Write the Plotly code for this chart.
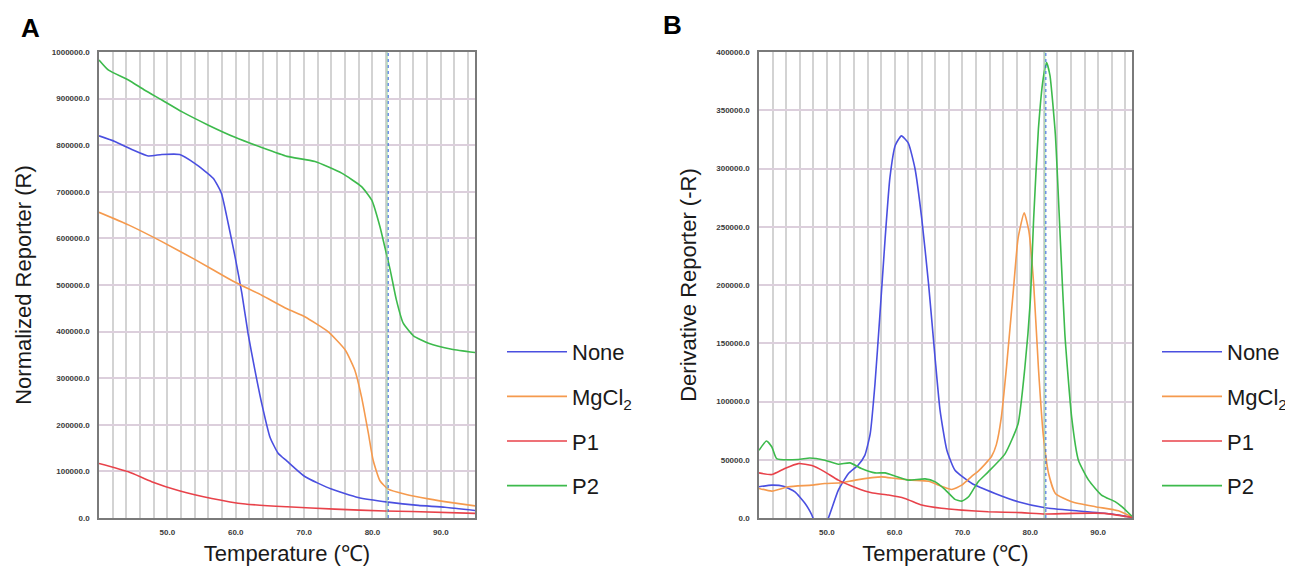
import plotly.graph_objects as go

# ---------------- data ----------------
series_names = ["None", "MgCl<sub>2</sub>", "P1", "P2"]
series_colors = ["#4a4fe0", "#f59a4e", "#e8424a", "#3dba4c"]
x_tick_values = [50, 60, 70, 80, 90]

# Panel A: Normalized reporter
A_none_T = [40.0, 42.3, 44.8, 47.2, 49.2, 51.8, 54.0, 56.7, 57.9, 58.9, 59.9, 60.9, 61.8, 62.8, 63.8, 65.0, 66.2, 67.5, 70.1, 74.0, 77.9, 82.3, 86.7, 90.6, 95.0]
A_none_v = [820000, 808000, 791000, 777000, 780000, 780000, 761000, 729000, 697000, 632000, 561000, 482000, 396000, 318000, 246000, 174000, 139000, 122000, 89000, 62000, 44000, 34000, 27000, 23000, 16000]

A_mg_T = [40.0, 44.3, 49.2, 54.0, 58.9, 60.6, 63.8, 67.5, 70.1, 73.5, 76.0, 77.4, 78.4, 79.4, 80.1, 81.1, 82.3, 84.8, 88.2, 91.6, 95.0]
A_mg_v = [656000, 629000, 593000, 555000, 514000, 501000, 478000, 449000, 432000, 400000, 361000, 318000, 260000, 182000, 124000, 80000, 62000, 51000, 41000, 33000, 26000]

A_p1_T = [40.0, 44.3, 47.7, 51.6, 56.5, 61.4, 67.5, 74.5, 81.8, 85.7, 95.0]
A_p1_v = [117000, 99000, 78000, 59000, 42000, 30000, 24000, 19000, 15000, 14000, 10000]

A_p2_T = [40.0, 41.4, 44.3, 46.7, 49.2, 52.1, 56.0, 59.9, 63.8, 67.5, 71.6, 75.5, 78.4, 79.9, 81.1, 81.8, 82.6, 83.5, 84.5, 86.0, 88.2, 91.6, 95.0]
A_p2_v = [983000, 961000, 940000, 918000, 897000, 872000, 843000, 817000, 795000, 776000, 765000, 740000, 711000, 682000, 625000, 582000, 532000, 468000, 418000, 391000, 375000, 362000, 355000]

# Panel B: Derivative reporter
B_none_T = [40.0, 41.9, 43.6, 45.3, 46.8, 47.8, 49.0, 50.3, 51.7, 53.2, 54.6, 55.6, 56.4, 57.1, 57.8, 58.6, 59.3, 60.1, 61.0, 62.0, 63.0, 64.0, 65.0, 66.0, 66.7, 67.7, 68.9, 71.4, 74.8, 78.2, 82.2, 87.1, 92.0, 95.0]
B_none_v = [26800, 28200, 27300, 22500, 12500, 2500, -15000, 1100, 23900, 38200, 45300, 53800, 72400, 115000, 172000, 240000, 292000, 320000, 328000, 322000, 300000, 257000, 201000, 135000, 92300, 58100, 41000, 29600, 21100, 14000, 8800, 6000, 3400, 500]

B_mg_T = [40.0, 41.9, 44.3, 47.8, 49.7, 52.2, 54.2, 58.1, 60.1, 62.5, 65.0, 66.9, 68.4, 69.9, 71.4, 72.3, 73.3, 74.3, 75.0, 75.7, 76.5, 77.5, 78.2, 79.1, 79.8, 80.5, 81.2, 81.9, 82.7, 83.7, 86.1, 89.6, 93.0, 95.0]
B_mg_v = [25400, 23100, 26800, 28200, 29600, 30200, 32500, 35300, 33900, 32500, 31600, 27300, 24500, 28200, 35900, 40000, 46000, 53000, 63000, 85000, 130000, 195000, 240000, 262000, 246000, 201000, 129000, 72400, 38200, 21100, 14000, 9700, 6200, 1000]

B_p1_T = [40.0, 41.9, 43.8, 45.8, 47.8, 49.7, 51.7, 54.2, 56.6, 59.1, 61.5, 64.0, 66.9, 69.9, 73.8, 78.7, 82.2, 86.1, 91.0, 95.0]
B_p1_v = [38700, 37300, 42500, 46700, 45000, 39600, 32500, 26200, 21600, 19700, 16800, 11100, 8300, 6800, 5400, 4600, 3400, 4000, 4000, 500]

B_p2_T = [40.0, 41.1, 41.9, 42.6, 45.8, 47.5, 49.7, 51.7, 53.4, 55.1, 57.1, 58.6, 60.1, 62.0, 64.5, 66.0, 67.4, 68.9, 69.9, 70.9, 72.3, 73.8, 76.3, 78.2, 79.2, 80.0, 80.5, 81.2, 81.9, 82.4, 82.9, 83.7, 84.4, 85.1, 86.1, 87.1, 88.6, 90.5, 92.5, 93.5, 95.0]
B_p2_v = [58100, 66100, 60900, 51000, 50200, 51500, 49600, 46200, 47300, 42500, 38700, 38700, 35900, 32500, 33600, 31000, 24600, 16000, 14500, 18200, 31000, 39600, 55300, 80900, 129000, 186000, 257000, 334000, 377000, 391000, 380000, 329000, 243000, 158000, 86600, 49600, 32500, 19700, 14000, 9700, 1500]

marker_T = 82.3  # vertical cursor line

panel_A = [(A_none_T, A_none_v), (A_mg_T, A_mg_v), (A_p1_T, A_p1_v), (A_p2_T, A_p2_v)]
panel_B = [(B_none_T, B_none_v), (B_mg_T, B_mg_v), (B_p1_T, B_p1_v), (B_p2_T, B_p2_v)]

# ---------------- figure ----------------
fig = go.Figure()

for i, (t, v) in enumerate(panel_A):
    fig.add_trace(go.Scatter(
        x=t, y=v, mode="lines", name=series_names[i],
        line=dict(color=series_colors[i], width=1.6, shape="spline", smoothing=0.5),
        xaxis="x", yaxis="y", legend="legend", legendgroup="a%d" % i,
    ))
for i, (t, v) in enumerate(panel_B):
    fig.add_trace(go.Scatter(
        x=t, y=v, mode="lines", name=series_names[i],
        line=dict(color=series_colors[i], width=1.6, shape="spline", smoothing=0.5),
        xaxis="x2", yaxis="y2", legend="legend2", legendgroup="b%d" % i,
    ))

# the page body has an 8px margin, so the figure is drawn 8px smaller
# and every reference pixel position is shifted by 8px
OFF = 8
W, H = 1293 - OFF, 569 - OFF
ML = 99 - OFF
MT = 52 - OFF
MB = H - (518 - OFF)
MR = W - (1132 - OFF)
pw = W - ML - MR
ph = H - MT - MB
domA = [0, (475 - 99) / pw]
domB = [(759 - 99) / pw, 1]

def px_x(px):
    return (px - OFF - ML) / pw

def px_y(py):
    return (H - MB - (py - OFF)) / ph

tickfont = dict(family="Liberation Sans, Arial, sans-serif", size=8, color="#3a3a3a", weight="bold")
titlefont = dict(family="Liberation Sans, Arial, sans-serif", size=22, color="#1a1a1a")
vgrid = "#d3d3d3"
hgrid = "#dccfdc"
frame = "#7a7a7a"

def xaxis(domain, anchor):
    return dict(
        domain=domain, anchor=anchor, range=[40, 95], automargin=False,
        tickmode="array", tickvals=x_tick_values, tickformat=".1f",
        showgrid=True, gridcolor=vgrid, gridwidth=1.5,
        minor=dict(dtick=2, tick0=0, showgrid=True, gridcolor=vgrid, gridwidth=1.5),
        showline=True, linecolor=frame, linewidth=1.5, mirror=True,
        ticks="", ticklabelstandoff=6, tickfont=tickfont, zeroline=False,
        title=dict(text="Temperature (℃)", font=titlefont, standoff=9),
    )

def yaxis(domain, anchor, rng, dtick, title):
    return dict(
        domain=domain, anchor=anchor, range=rng, dtick=dtick, automargin=False,
        tickformat=".1f", showgrid=True, gridcolor=hgrid, gridwidth=1.5,
        showline=True, linecolor=frame, linewidth=1.5, mirror=True,
        ticks="", ticklabelstandoff=6, tickfont=tickfont, zeroline=False,
        title=dict(text=title, font=titlefont, standoff=14),
    )

legend_common = dict(
    font=dict(family="Liberation Sans, Arial, sans-serif", size=22, color="#1a1a1a"),
    bgcolor="rgba(0,0,0,0)", tracegroupgap=13, itemwidth=60,
    xref="paper", yref="paper", xanchor="left", yanchor="top", itemclick=False,
)

fig.update_layout(
    width=W, height=H,
    margin=dict(l=ML, r=MR, t=MT, b=MB, autoexpand=False),
    paper_bgcolor="white", plot_bgcolor="white",
    xaxis=xaxis(domA, "y"),
    yaxis=yaxis([0, 1], "x", [0, 1000000], 100000, "Normalized Reporter (R)"),
    xaxis2=xaxis(domB, "y2"),
    yaxis2=yaxis([0, 1], "x2", [0, 400000], 50000, "Derivative Reporter (-R)"),
    legend=dict(x=px_x(502), y=px_y(331), **legend_common),
    legend2=dict(x=px_x(1157), y=px_y(331), **legend_common),
    showlegend=True,
)

for xa, ya in (("x", "y"), ("x2", "y2")):
    fig.add_shape(type="line", xref=xa, yref=ya + " domain", x0=marker_T - 0.15, x1=marker_T - 0.15,
                  y0=0, y1=1, line=dict(color="#9fd9a8", width=1))
    fig.add_shape(type="line", xref=xa, yref=ya + " domain", x0=marker_T, x1=marker_T,
                  y0=0, y1=1, line=dict(color="#2f5fe0", width=1, dash="dot"))

panel_font = dict(family="Liberation Sans, Arial, sans-serif", size=26, color="black", weight="bold")
fig.add_annotation(text="A", xref="paper", yref="paper", x=px_x(30), y=px_y(28),
                   showarrow=False, font=panel_font, xanchor="center", yanchor="middle")
fig.add_annotation(text="B", xref="paper", yref="paper", x=px_x(672), y=px_y(25),
                   showarrow=False, font=panel_font, xanchor="center", yanchor="middle")

fig.write_html("out.html")
